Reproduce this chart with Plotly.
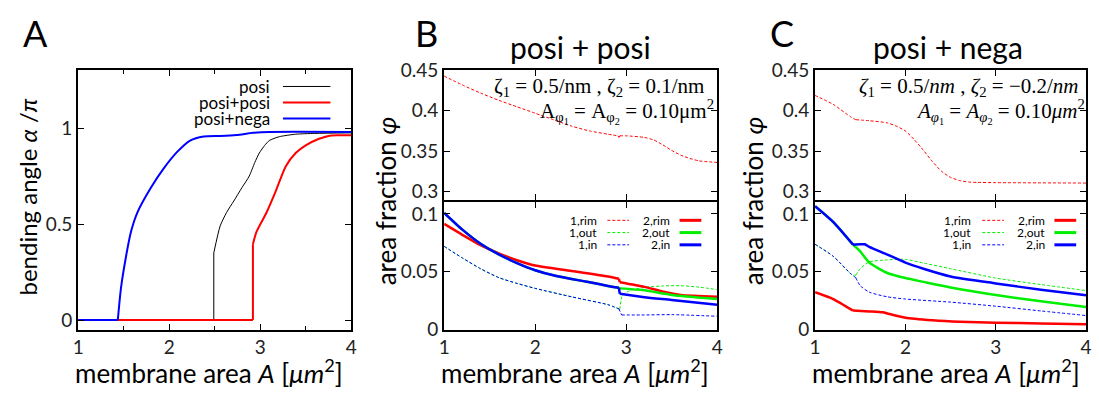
import plotly.graph_objects as go

W, H = 1099, 401
FONT = "Lato"
SERIF = "Liberation Serif"

# ---------------- Panel A data ----------------
A_posi_x = [1.0, 2.49, 2.49, 2.56, 2.63, 2.71, 2.80, 2.88, 2.94, 2.99, 3.05, 3.10, 3.21, 3.39, 3.6, 4.0]
A_posi_y = [0.0, 0.0, 0.35, 0.49, 0.56, 0.62, 0.69, 0.75, 0.82, 0.87, 0.91, 0.935, 0.955, 0.968, 0.972, 0.975]
A_pp_x = [1.0, 2.92, 2.92, 2.96, 3.07, 3.17, 3.28, 3.39, 3.50, 3.64, 3.75, 3.85, 4.0]
A_pp_y = [0.0, 0.0, 0.395, 0.46, 0.56, 0.67, 0.80, 0.87, 0.91, 0.943, 0.959, 0.962, 0.962]
A_pn_x = [1.0, 1.435, 1.47, 1.525, 1.58, 1.65, 1.80, 1.94, 2.09, 2.23, 2.38, 2.56, 2.74, 2.92, 3.10, 4.0]
A_pn_y = [0.0, 0.0, 0.167, 0.33, 0.46, 0.56, 0.69, 0.79, 0.877, 0.935, 0.956, 0.959, 0.964, 0.975, 0.98, 0.98]

# ---------------- Panel B data (posi + posi) ----------------
B_1rim_x = [1.0, 1.2, 1.4, 1.6, 1.8, 2.0, 2.2, 2.4, 2.6, 2.8, 2.91, 2.92, 2.93, 3.0, 3.2, 3.3, 3.4, 3.5, 3.6, 3.7, 3.8, 4.0]
B_1rim_y = [0.443, 0.432, 0.422, 0.413, 0.405, 0.397, 0.389, 0.381, 0.375, 0.371, 0.369, 0.367, 0.369, 0.369, 0.367, 0.364, 0.358, 0.351, 0.345, 0.341, 0.338, 0.336]
B_2rim_x = [1.0, 1.2, 1.4, 1.6, 1.8, 2.0, 2.4, 2.8, 2.92, 2.93, 3.2, 3.4, 3.6, 4.0]
B_2rim_y = [0.0914, 0.082, 0.073, 0.066, 0.060, 0.0554, 0.0508, 0.046, 0.044, 0.041, 0.037, 0.033, 0.030, 0.0284]
B_2in_x = [1.0, 1.2, 1.4, 1.6, 1.8, 2.0, 2.2, 2.4, 2.6, 2.8, 2.92, 2.93, 3.2, 3.5, 4.0]
B_2in_y = [0.101, 0.0865, 0.0743, 0.065, 0.0576, 0.0514, 0.047, 0.0438, 0.041, 0.0378, 0.0362, 0.031, 0.028, 0.0257, 0.0216]
B_2out_x = [1.0, 1.2, 1.4, 1.6, 1.8, 2.0, 2.2, 2.4, 2.6, 2.8, 2.92, 2.93, 3.2, 3.5, 4.0]
B_2out_y = [0.101, 0.0865, 0.0743, 0.065, 0.0576, 0.0514, 0.047, 0.0438, 0.041, 0.0378, 0.0362, 0.0357, 0.034, 0.030, 0.0265]
B_1in_x = [1.0, 1.2, 1.4, 1.6, 1.8, 2.0, 2.4, 2.8, 2.92, 2.95, 3.2, 3.5, 4.0]
B_1in_y = [0.072, 0.062, 0.0527, 0.045, 0.040, 0.0357, 0.0284, 0.0216, 0.018, 0.0127, 0.0127, 0.013, 0.0116]
B_1out_x = [1.0, 1.2, 1.4, 1.6, 1.8, 2.0, 2.4, 2.8, 2.92, 2.93, 2.96, 3.05, 3.2, 3.4, 3.6, 3.8, 4.0]
B_1out_y = [0.072, 0.062, 0.0527, 0.045, 0.040, 0.0357, 0.0284, 0.0216, 0.018, 0.0175, 0.030, 0.034, 0.0365, 0.0378, 0.038, 0.0368, 0.0346]

# ---------------- Panel C data (posi + nega) ----------------
C_1rim_x = [1.0, 1.2, 1.4, 1.45, 1.6, 1.8, 1.9, 2.0, 2.1, 2.2, 2.3, 2.4, 2.5, 2.6, 2.7, 2.8, 3.0, 4.0]
C_1rim_y = [0.419, 0.408, 0.392, 0.389, 0.3877, 0.385, 0.381, 0.375, 0.364, 0.351, 0.337, 0.325, 0.3175, 0.3136, 0.3117, 0.3113, 0.311, 0.3105]
C_2in_x = [1.0, 1.2, 1.42, 1.5, 1.55, 1.6, 1.8, 2.0, 2.2, 2.5, 3.0, 3.5, 4.0]
C_2in_y = [0.1068, 0.0932, 0.0735, 0.0738, 0.0738, 0.0716, 0.0649, 0.058, 0.0527, 0.046, 0.040, 0.0345, 0.0297]
C_2out_x = [1.0, 1.2, 1.42, 1.5, 1.6, 1.8, 2.0, 2.2, 2.5, 3.0, 3.5, 4.0]
C_2out_y = [0.1068, 0.0932, 0.0735, 0.0676, 0.058, 0.049, 0.0446, 0.0413, 0.0365, 0.030, 0.0245, 0.0195]
C_1in_x = [1.0, 1.2, 1.4, 1.45, 1.5, 1.6, 1.8, 2.0, 2.5, 3.0, 3.5, 4.0]
C_1in_y = [0.0738, 0.0635, 0.048, 0.045, 0.038, 0.0324, 0.0284, 0.0265, 0.0238, 0.0203, 0.0162, 0.0122]
C_1out_x = [1.0, 1.2, 1.4, 1.45, 1.5, 1.6, 1.8, 2.0, 2.2, 2.5, 3.0, 3.5, 4.0]
C_1out_y = [0.0738, 0.0635, 0.048, 0.047, 0.0527, 0.0586, 0.0603, 0.0608, 0.0576, 0.0527, 0.0446, 0.039, 0.0338]
C_2rim_x = [1.0, 1.2, 1.42, 1.6, 1.75, 1.8, 2.0, 2.3, 2.6, 3.0, 3.5, 4.0]
C_2rim_y = [0.0324, 0.0265, 0.0165, 0.0158, 0.015, 0.014, 0.0103, 0.0081, 0.0068, 0.006, 0.0054, 0.0046]

x_ticks = [1, 2, 3, 4]
x_minor = [1.5, 2.5, 3.5]
A_yticks = [0, 0.5, 1]
A_ytext = ["0", "0.5", "1"]
top_yticks = [0.3, 0.35, 0.4, 0.45]
top_ytext = ["0.3", "0.35", "0.4", "0.45"]
bot_yticks = [0, 0.05, 0.1]
bot_ytext = ["0", "0.05", "0.1"]

RED, GREEN, BLUE = "#ff0000", "#00ee00", "#0000ff"


def px(x):
    return x / W


def py(y):
    return 1 - y / H


fig = go.Figure()


def add(x, y, xa, ya, color, width, dash="solid", breaks=()):
    """Draw a curve; corners/jumps at the indices in `breaks` are kept sharp."""
    cuts = [0] + list(breaks) + [len(x) - 1]
    for a, b in zip(cuts[:-1], cuts[1:]):
        fig.add_trace(go.Scatter(x=x[a:b + 1], y=y[a:b + 1], xaxis=xa, yaxis=ya, mode="lines",
                                 line=dict(color=color, width=width, dash=dash,
                                           shape="spline", smoothing=0.6),
                                 showlegend=False, hoverinfo="skip"))

DASH = "3px,2px"
# Panel A
add(A_posi_x, A_posi_y, "x", "y", "black", 1, breaks=(1, 2))
add(A_pp_x, A_pp_y, "x", "y", RED, 2, breaks=(1, 2))
add(A_pn_x, A_pn_y, "x", "y", BLUE, 2, breaks=(1,))
# Panel B
add(B_1rim_x, B_1rim_y, "x2", "y2", RED, 1, DASH, breaks=(10, 11, 12))
add(B_1out_x, B_1out_y, "x3", "y3", GREEN, 1, DASH, breaks=(8, 9))
add(B_1in_x, B_1in_y, "x3", "y3", BLUE, 1, DASH, breaks=(8, 9))
add(B_2rim_x, B_2rim_y, "x3", "y3", RED, 2.5, breaks=(8, 9))
add(B_2out_x, B_2out_y, "x3", "y3", GREEN, 2.5, breaks=(10, 11))
add(B_2in_x, B_2in_y, "x3", "y3", BLUE, 2.5, breaks=(10, 11))
# Panel C
add(C_1rim_x, C_1rim_y, "x4", "y4", RED, 1, DASH, breaks=(3,))
add(C_1out_x, C_1out_y, "x5", "y5", GREEN, 1, DASH, breaks=(3,))
add(C_1in_x, C_1in_y, "x5", "y5", BLUE, 1, DASH, breaks=(3,))
add(C_2rim_x, C_2rim_y, "x5", "y5", RED, 2.5, breaks=(2,))
add(C_2out_x, C_2out_y, "x5", "y5", GREEN, 2.5, breaks=(2,))
add(C_2in_x, C_2in_y, "x5", "y5", BLUE, 2.5, breaks=(2,))

ax_common = dict(showline=True, mirror="allticks", linecolor="black", linewidth=2,
                 ticks="inside", ticklen=6, tickwidth=1, tickcolor="black",
                 showgrid=False, zeroline=False,
                 tickfont=dict(family=FONT, size=19, color="#222"))

# domains
A_x = [px(73), px(349)]
B_x = [px(443), px(719)]
C_x = [px(818), px(1092)]
full_y = [py(337), py(62)]
top_y = [py(199), py(62)]
bot_y = [py(337), py(202)]

layout_axes = dict(
    xaxis=dict(domain=A_x, range=[1, 4], tickvals=x_ticks, anchor="y",
               minor=dict(tickvals=x_minor, ticklen=4, tickcolor="black", ticks="inside"), **ax_common),
    yaxis=dict(domain=full_y, range=[-0.05, 1.3], tickvals=A_yticks, ticktext=A_ytext, anchor="x", **ax_common),
    xaxis2=dict(domain=B_x, range=[1, 4], tickvals=x_ticks, showticklabels=False, anchor="y2", **ax_common),
    yaxis2=dict(domain=top_y, range=[0.29, 0.45], tickvals=top_yticks, ticktext=top_ytext, anchor="x2", **ax_common),
    xaxis3=dict(domain=B_x, range=[1, 4], tickvals=x_ticks, anchor="y3", **ax_common),
    yaxis3=dict(domain=bot_y, range=[0, 0.11], tickvals=bot_yticks, ticktext=bot_ytext, anchor="x3", **ax_common),
    xaxis4=dict(domain=C_x, range=[1, 4], tickvals=x_ticks, showticklabels=False, anchor="y4", **ax_common),
    yaxis4=dict(domain=top_y, range=[0.29, 0.45], tickvals=top_yticks, ticktext=top_ytext, anchor="x4", **ax_common),
    xaxis5=dict(domain=C_x, range=[1, 4], tickvals=x_ticks, anchor="y5", **ax_common),
    yaxis5=dict(domain=bot_y, range=[0, 0.11], tickvals=bot_yticks, ticktext=bot_ytext, anchor="x5", **ax_common),
)

annotations = []
shapes = []


def text(x, y, s, size, xanchor="center", yanchor="middle", angle=0, family=FONT, color="black"):
    annotations.append(dict(x=px(x), y=py(y), xref="paper", yref="paper", text=s, showarrow=False,
                            xanchor=xanchor, yanchor=yanchor, textangle=angle,
                            font=dict(family=family, size=size, color=color)))


def sample(x0, x1, y, color, width, dash="solid"):
    shapes.append(dict(type="line", xref="paper", yref="paper", x0=px(x0), x1=px(x1),
                       y0=py(y), y1=py(y), line=dict(color=color, width=width, dash=dash)))

# panel letters
text(30, 22, "A", 36)
text(425, 22, "B", 36)
text(785, 22, "C", 36)
# titles
text(581, 37, "posi + posi", 30)
text(952, 37, "posi + nega", 30)

xtitle = "membrane area <i>A</i> [<i>μm</i><sup>2</sup>]"
text(205, 381, xtitle, 26)
text(575, 381, xtitle, 26)
text(950, 381, xtitle, 26)

text(22, 196, "bending angle <i>α</i> /<i>π</i>", 24, angle=-90)
text(384, 200, "area fraction <i>φ</i>", 26, angle=-90)
text(755, 200, "area fraction <i>φ</i>", 26, angle=-90)

# panel A legend
for i, (lab, col, wd) in enumerate([("posi", "black", 1), ("posi+posi", RED, 2), ("posi+nega", BLUE, 2)]):
    yy = 79 + 17 * i
    text(269, yy, lab, 17, xanchor="right")
    sample(280, 328, yy, col, wd)

# panel B/C legends
def small_legend(x_t1, x_s1, x_t2, x_s2):
    rows = [("1,rim", "2,rim", RED), ("1,out", "2,out", GREEN), ("1,in", "2,in", BLUE)]
    for i, (l1, l2, col) in enumerate(rows):
        yy = 221 + 13 * i
        text(x_t1, yy, l1, 12, xanchor="right")
        sample(x_s1, x_s1 + 22, yy, col, 1, "3px,2px")
        text(x_t2, yy, l2, 12, xanchor="right")
        sample(x_s2, x_s2 + 22, yy, col, 3)

small_legend(600, 608, 673, 681)
small_legend(978, 987, 1052, 1060)

# parameter annotations
text(708, 80, "ζ<sub>1</sub> = 0.5/nm , ζ<sub>2</sub> = 0.1/nm", 21, xanchor="right", family=SERIF)
text(718, 106, "A<sub>φ<sub>1</sub></sub> = A<sub>φ<sub>2</sub></sub> = 0.10μm<sup>2</sup>", 21, xanchor="right", family=SERIF)
text(1087, 80, "<i>ζ</i><sub>1</sub> = 0.5/<i>nm</i> , <i>ζ</i><sub>2</sub> = −0.2/<i>nm</i>", 21, xanchor="right", family=SERIF)
text(1093, 106, "<i>A</i><sub><i>φ</i><sub>1</sub></sub> = <i>A</i><sub><i>φ</i><sub>2</sub></sub> = 0.10<i>μm</i><sup>2</sup>", 21, xanchor="right", family=SERIF)

fig.update_layout(width=W, height=H, margin=dict(l=0, r=0, t=0, b=0),
                  paper_bgcolor="white", plot_bgcolor="white",
                  annotations=annotations, shapes=shapes, **layout_axes)

fig.write_html("out.html", config={"displayModeBar": False},
               post_script="document.body.style.margin='0';document.body.style.overflow='hidden';")
